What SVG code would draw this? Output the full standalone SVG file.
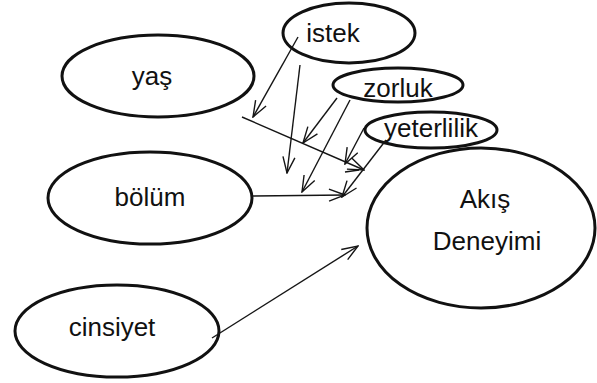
<svg xmlns="http://www.w3.org/2000/svg" width="597" height="383" viewBox="0 0 597 383">
  <defs>
    <style>
      .node ellipse { fill: #ffffff; stroke: #111111; stroke-width: 3; }
      .node text { font-family: "Liberation Sans", Arial, sans-serif; font-size: 26px; fill: #111111; text-anchor: middle; }
      .edge { fill: none; stroke: #151515; stroke-width: 1.4; marker-end: url(#arrow); }
      .tick { fill: none; stroke: #151515; stroke-width: 1.4; }
    </style>
    <marker id="arrow" viewBox="0 0 18 14" markerWidth="18" markerHeight="14" refX="17" refY="7" orient="auto" markerUnits="userSpaceOnUse">
      <path d="M1,1 L17,7 L1,13" fill="none" stroke="#151515" stroke-width="1.4"/>
    </marker>
  </defs>
  <rect width="597" height="383" fill="#ffffff"/>

  <g id="nodes">
    <g id="node-yas" class="node">
      <ellipse cx="158" cy="76" rx="96" ry="41"/>
      <text x="152" y="85">yaş</text>
    </g>
    <g id="node-bolum" class="node">
      <ellipse cx="150" cy="198" rx="102" ry="46"/>
      <text x="150" y="206">bölüm</text>
    </g>
    <g id="node-cinsiyet" class="node">
      <ellipse cx="117" cy="331" rx="102" ry="46"/>
      <text x="112" y="336">cinsiyet</text>
    </g>
    <g id="node-akis" class="node">
      <ellipse cx="481" cy="228" rx="114" ry="80"/>
      <text x="485" y="208">Akış</text>
      <text x="487" y="250">Deneyimi</text>
    </g>
    <g id="node-istek" class="node">
      <ellipse cx="349" cy="33" rx="66" ry="30"/>
      <text x="333" y="42">istek</text>
    </g>
    <g id="node-zorluk" class="node">
      <ellipse cx="398" cy="85" rx="65" ry="17"/>
      <text x="398" y="97">zorluk</text>
    </g>
    <g id="node-yeterlilik" class="node">
      <ellipse cx="431" cy="130" rx="66" ry="18"/>
      <text x="431" y="137">yeterlilik</text>
    </g>
  </g>

  <g id="connectors">
    <line class="edge" x1="242" y1="117" x2="364" y2="170"/>
    <line class="edge" x1="298" y1="37" x2="253" y2="117"/>
    <line class="edge" x1="300" y1="65" x2="287" y2="173"/>
    <line class="edge" x1="337" y1="98" x2="303" y2="143"/>
    <line class="edge" x1="350" y1="100" x2="302" y2="192"/>
    <line class="edge" x1="364" y1="128" x2="345" y2="164"/>
    <line class="edge" x1="386" y1="140" x2="342" y2="197"/>
    <line class="edge" x1="252" y1="196" x2="345" y2="195"/>
    <line class="edge" x1="212" y1="338" x2="358" y2="246"/>
    <line class="tick" x1="345" y1="172" x2="359" y2="170"/>
  </g>
</svg>
